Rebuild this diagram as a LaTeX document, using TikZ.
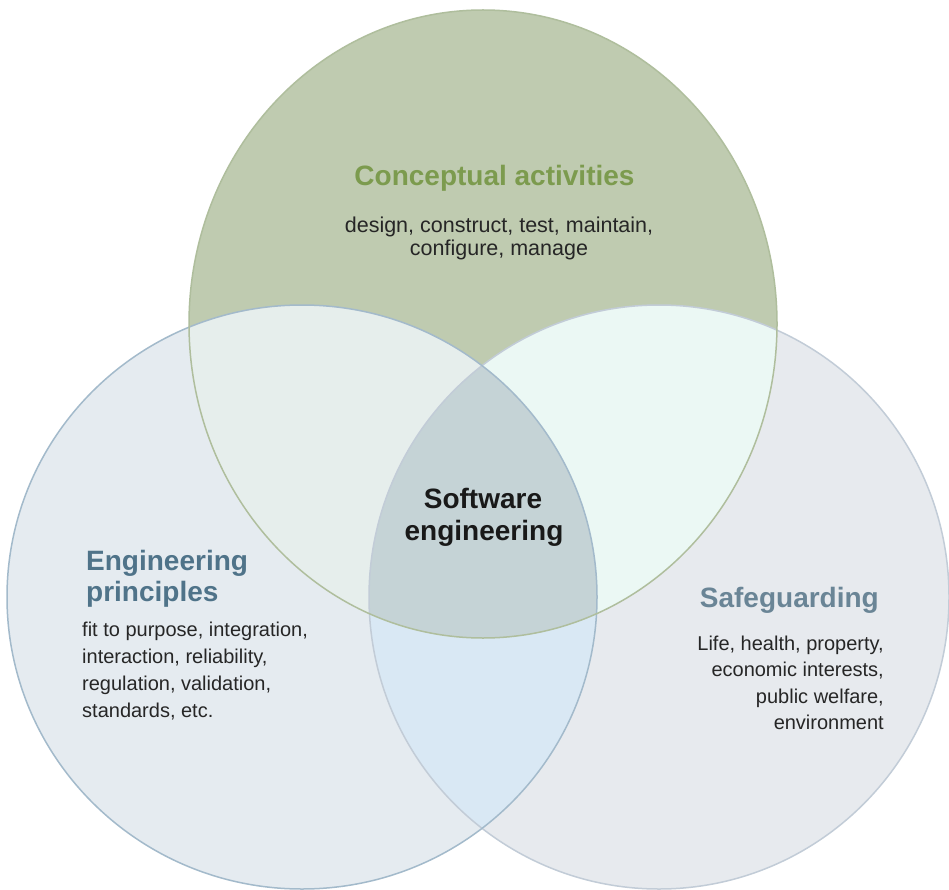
\documentclass[tikz,border=0pt]{standalone}
\usepackage{fontspec}
\setmainfont{Liberation Sans}
\definecolor{topfill}{HTML}{BFCBB0}
\definecolor{topline}{HTML}{AFBE9D}
\definecolor{leftfill}{HTML}{E5EBF0}
\definecolor{leftline}{HTML}{A3BACB}
\definecolor{rightfill}{HTML}{E7EAEE}
\definecolor{rightline}{HTML}{C2CCD7}
\definecolor{tlfill}{HTML}{E6EEEC}
\definecolor{trfill}{HTML}{EBF8F4}
\definecolor{lrfill}{HTML}{D9E8F4}
\definecolor{midfill}{HTML}{C5D3D6}
\definecolor{greenhead}{HTML}{7C9B4E}
\definecolor{bluehead}{HTML}{4F7389}
\definecolor{grayhead}{HTML}{6A8596}
\definecolor{bodytext}{HTML}{262626}
\begin{document}
\begin{tikzpicture}[x=1pt,y=-1pt,
  head/.style={font=\fontsize{28}{32}\selectfont\bfseries, inner sep=0pt},
  body/.style={font=\fontsize{20}{27}\selectfont, inner sep=0pt, text=bodytext},
  topbody/.style={font=\fontsize{21.5}{24}\selectfont, inner sep=0pt, text=bodytext},
  ring/.style={line width=1.5pt}]
\useasboundingbox (0,0) rectangle (949,890);
\fill[white] (0,0) rectangle (949,890);
\def\topE{(483,324) ellipse [x radius=294pt, y radius=314pt]}
\def\leftE{(302,597) ellipse [x radius=295pt, y radius=292pt]}
\def\rightE{(659,597) ellipse [x radius=290pt, y radius=292pt]}
% base fills
\fill[topfill] \topE;
\fill[leftfill] \leftE;
\fill[rightfill] \rightE;
% pairwise overlaps
\begin{scope}
  \clip \topE;
  \fill[tlfill] \leftE;
\end{scope}
\begin{scope}
  \clip \topE;
  \fill[trfill] \rightE;
\end{scope}
\begin{scope}
  \clip \leftE;
  \fill[lrfill] \rightE;
\end{scope}
\begin{scope}
  \clip \topE;
  \clip \leftE;
  \fill[midfill] \rightE;
\end{scope}
% outlines
\draw[ring, rightline] \rightE;
\draw[ring, leftline] \leftE;
\draw[ring, topline] \topE;
% top circle text
\node[head, text=greenhead, anchor=base] (cah) at (494.5,186) {Conceptual activities};
\node[topbody, anchor=base] (ca1) at (499,233) {design, construct, test, maintain,};
\node[topbody, anchor=base] (ca2) at (499,256) {configure, manage};
% left circle text
\node[head, text=bluehead, anchor=base west] (ep1) at (86,570) {Engineering};
\node[head, text=bluehead, anchor=base west] (ep2) at (86,601) {principles};
\node[body, anchor=base west] (epa) at (82,636) {fit to purpose, integration,};
\node[body, anchor=base west] (epb) at (82,663) {interaction, reliability,};
\node[body, anchor=base west] (epc) at (82,690) {regulation, validation,};
\node[body, anchor=base west] (epd) at (82,717) {standards, etc.};
% right circle text
\node[head, text=grayhead, anchor=base east] (sg) at (879,607) {Safeguarding};
\node[body, anchor=base east] (sga) at (884,650) {Life, health, property,};
\node[body, anchor=base east] (sgb) at (884,676) {economic interests,};
\node[body, anchor=base east] (sgc) at (884,703) {public welfare,};
\node[body, anchor=base east] (sgd) at (884,729) {environment};
% centre text
\node[head, text=black!90, anchor=base] (se1) at (483,508) {Software};
\node[head, text=black!90, anchor=base] (se2) at (484,540) {engineering};
\end{tikzpicture}
\end{document}
